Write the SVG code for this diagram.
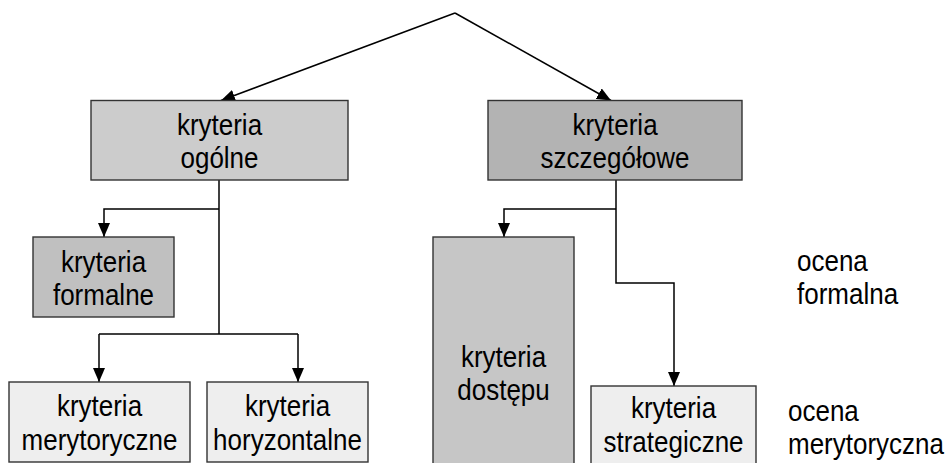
<svg xmlns="http://www.w3.org/2000/svg" width="948" height="463" viewBox="0 0 948 463">
  <style>
    .box { stroke: #333333; stroke-width: 1.4; }
    .lbl { font-family: "Liberation Sans", Arial, sans-serif; font-size: 26px; fill: #000000; text-anchor: middle; }
    .side { font-family: "Liberation Sans", Arial, sans-serif; font-size: 26px; fill: #000000; }
    .conn { fill: none; stroke: #000000; stroke-width: 1.5; }
  </style>
  <defs>
    <marker id="arr" viewBox="0 0 14 12" refX="14" refY="6" markerWidth="14" markerHeight="12" markerUnits="userSpaceOnUse" orient="auto">
      <path d="M0,0 L14,6 L0,12 z" fill="#000000"/>
    </marker>
  </defs>
  <rect x="0" y="0" width="948" height="463" fill="#ffffff"/>

  <g id="connectors">
    <polyline class="conn" points="455,13 221,100.5" marker-end="url(#arr)"/>
    <polyline class="conn" points="455,13 611,100.5" marker-end="url(#arr)"/>
    <polyline class="conn" points="219,180 219,334"/>
    <polyline class="conn" points="219,209 104,209 104,237" marker-end="url(#arr)"/>
    <polyline class="conn" points="99,334 298,334"/>
    <polyline class="conn" points="99,334 99,382" marker-end="url(#arr)"/>
    <polyline class="conn" points="298,334 298,382" marker-end="url(#arr)"/>
    <polyline class="conn" points="616,180 616,283 674,283 674,386" marker-end="url(#arr)"/>
    <polyline class="conn" points="616,209 504,209 504,237" marker-end="url(#arr)"/>
  </g>

  <g id="node-ogolne">
    <rect class="box" x="91" y="100.5" width="257" height="79.5" fill="#cccccc"/>
    <text class="lbl" transform="translate(219.5,135) scale(1,1.15)">kryteria</text>
    <text class="lbl" transform="translate(219.5,168) scale(1,1.15)">ogólne</text>
  </g>
  <g id="node-szczegolowe">
    <rect class="box" x="488" y="100.5" width="254" height="79.5" fill="#b3b3b3"/>
    <text class="lbl" transform="translate(615,135) scale(1,1.15)">kryteria</text>
    <text class="lbl" transform="translate(615,168) scale(1,1.15)">szczegółowe</text>
  </g>
  <g id="node-formalne">
    <rect class="box" x="33" y="237" width="141" height="80" fill="#c0c0c0"/>
    <text class="lbl" transform="translate(103.5,272) scale(1,1.15)">kryteria</text>
    <text class="lbl" transform="translate(103.5,305) scale(1,1.15)">formalne</text>
  </g>
  <g id="node-merytoryczne">
    <rect class="box" x="9" y="382" width="181" height="80" fill="#eeeeee"/>
    <text class="lbl" transform="translate(99.5,416) scale(1,1.15)">kryteria</text>
    <text class="lbl" transform="translate(99.5,450) scale(1,1.15)">merytoryczne</text>
  </g>
  <g id="node-horyzontalne">
    <rect class="box" x="207" y="382" width="161" height="80" fill="#eeeeee"/>
    <text class="lbl" transform="translate(287.5,416) scale(1,1.15)">kryteria</text>
    <text class="lbl" transform="translate(287.5,450) scale(1,1.15)">horyzontalne</text>
  </g>
  <g id="node-dostepu">
    <rect class="box" x="433" y="237" width="141" height="272" fill="#c6c6c6"/>
    <text class="lbl" transform="translate(503.5,367) scale(1,1.15)">kryteria</text>
    <text class="lbl" transform="translate(503.5,400) scale(1,1.15)">dostępu</text>
  </g>
  <g id="node-strategiczne">
    <rect class="box" x="591" y="386" width="165" height="80" fill="#eeeeee"/>
    <text class="lbl" transform="translate(673.5,418) scale(1,1.15)">kryteria</text>
    <text class="lbl" transform="translate(673.5,452) scale(1,1.15)">strategiczne</text>
  </g>
  <g id="label-ocena-formalna">
    <text class="side" transform="translate(797,271) scale(1,1.15)">ocena</text>
    <text class="side" transform="translate(797,304) scale(1,1.15)">formalna</text>
  </g>
  <g id="label-ocena-merytoryczna">
    <text class="side" transform="translate(788,421) scale(1,1.15)">ocena</text>
    <text class="side" transform="translate(788,454) scale(1,1.15)">merytoryczna</text>
  </g>
</svg>
